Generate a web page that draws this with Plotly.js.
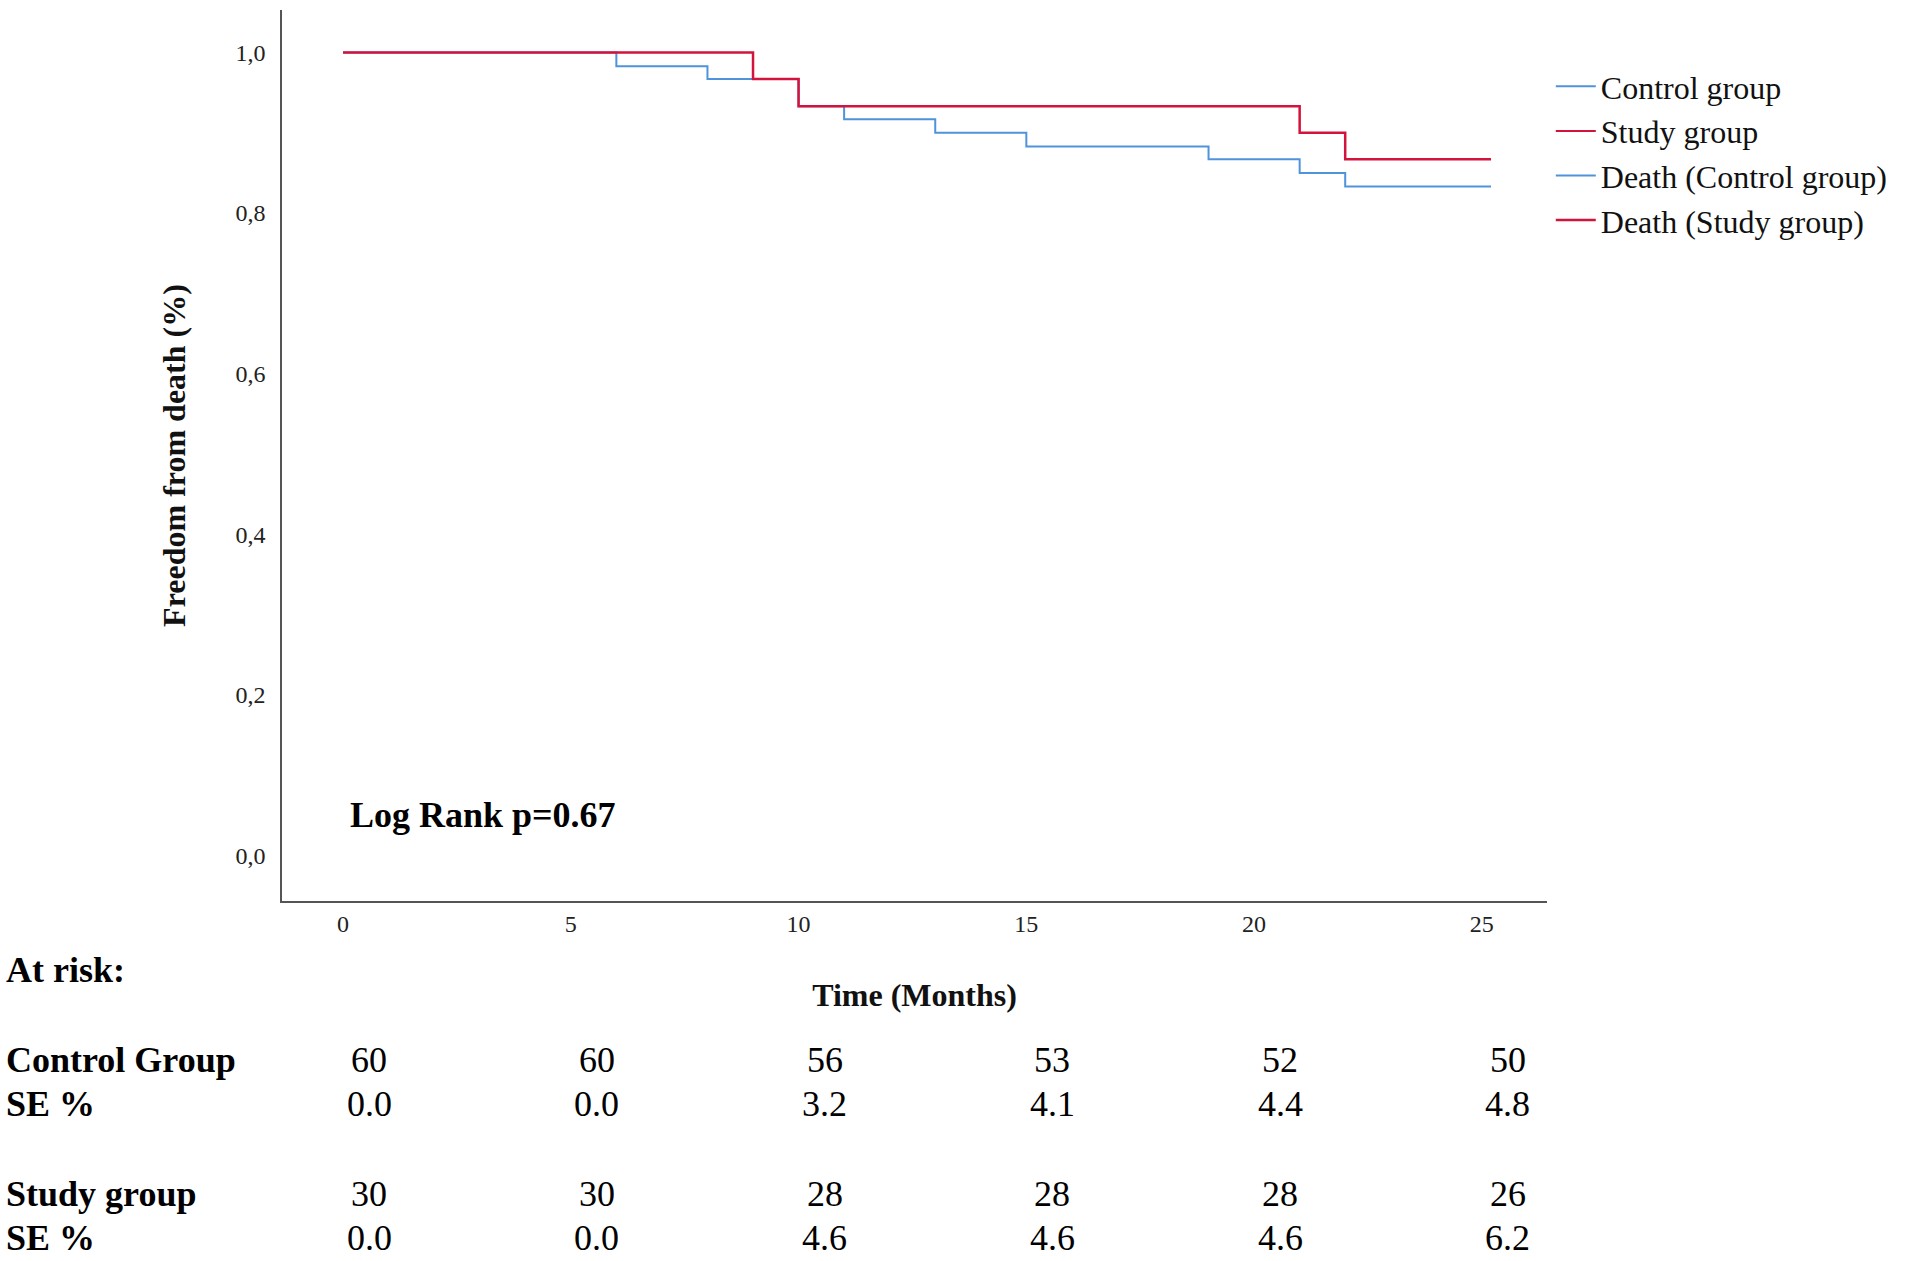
<!DOCTYPE html>
<html><head><meta charset="utf-8">
<script src="https://cdn.plot.ly/plotly-3.0.1.min.js"></script>
<style>body{margin:0;background:#fff}#chart{width:1916px;height:1261px}</style>
</head><body><div id="chart"></div>
<script>
// Kaplan-Meier steps (months, survival)
var control_t = [0, 6, 8, 10, 11, 13, 15, 19, 21, 22, 25.2];
var control_s = [1.0, 0.983, 0.967, 0.933, 0.917, 0.9, 0.883, 0.867, 0.85, 0.833, 0.833];
var study_t = [0, 9, 10, 21, 22, 25.2];
var study_s = [1.0, 0.967, 0.933, 0.9, 0.867, 0.867];

var risk_times = [0, 5, 10, 15, 20, 25];
var control_risk = ['60', '60', '56', '53', '52', '50'];
var control_se = ['0.0', '0.0', '3.2', '4.1', '4.4', '4.8'];
var study_risk = ['30', '30', '28', '28', '28', '26'];
var study_se = ['0.0', '0.0', '4.6', '4.6', '4.6', '6.2'];

var blue = '#4f93dc', red = '#d2143c';
var serif = 'Liberation Serif, Times New Roman, serif';

var traces = [
    {x: [null], y: [null], mode: 'lines', line: {color: blue, width: 2, shape: 'hv'}, name: 'Control group'},
    {x: [null], y: [null], mode: 'lines', line: {color: red, width: 2, shape: 'hv'}, name: 'Study group'},
    {x: control_t, y: control_s, mode: 'lines', line: {color: blue, width: 2, shape: 'hv'}, name: 'Death (Control group)'},
    {x: study_t, y: study_s, mode: 'lines', line: {color: red, width: 2.5, shape: 'hv'}, name: 'Death (Study group)'}
];

// plot area in pixels: top 10, bottom 901
function py(p) { return (901 - p) / 891; }

var txt = {family: serif, size: 36, color: '#000'};
var ann = [
    {xref: 'x', yref: 'y', x: 0.1, y: 0.05, text: '<b>Log Rank p=0.67</b>', showarrow: false,
     xanchor: 'left', font: {family: serif, size: 36, color: '#000'}},
    {xref: 'paper', yref: 'paper', x: -0.22, y: py(992), text: '<b>At risk:</b>', showarrow: false,
     xanchor: 'left', font: txt}
];
var rows = [
    ['<b>Control Group</b>', control_risk, 1082],
    ['<b>SE %</b>', control_se, 1126],
    ['<b>Study group</b>', study_risk, 1216],
    ['<b>SE %</b>', study_se, 1240]
];
rows[3][2] = 1260;
rows.forEach(function(r) {
    ann.push({xref: 'paper', yref: 'paper', x: -0.22, y: py(r[2]), text: r[0], showarrow: false,
              xanchor: 'left', font: txt});
    for (var i = 0; i < risk_times.length; i++) {
        ann.push({xref: 'x', yref: 'paper', x: risk_times[i], xshift: 26, y: py(r[2]), text: r[1][i],
                  showarrow: false, font: txt});
    }
});

var layout = {
    width: 1916, height: 1261,
    margin: {l: 282, r: 369, t: 10, b: 360},
    font: {family: serif, color: '#222'},
    separators: ',.',
    showlegend: true,
    legend: {x: 1.003, y: 0.945, xanchor: 'left', yanchor: 'top', font: {family: serif, size: 32, color: '#111'},
             tracegroupgap: 0, itemwidth: 40, bgcolor: 'rgba(0,0,0,0)'},
    xaxis: {range: [-1.34, 26.43], tickvals: [0, 5, 10, 15, 20, 25], showgrid: false, zeroline: false,
            showline: true, linecolor: '#555', linewidth: 1.5, ticks: '', tickfont: {size: 24},
            title: {text: '<b>Time (Months)</b>', font: {size: 32, color: '#111'}, standoff: 48}},
    yaxis: {range: [-0.057, 1.053], tickvals: [0, 0.2, 0.4, 0.6, 0.8, 1.0], tickformat: '.1f',
            showgrid: false, zeroline: false, showline: true, linecolor: '#555', linewidth: 1.5,
            ticks: '', tickfont: {size: 24}, ticklabelstandoff: 10,
            title: {text: '<b>Freedom from death (%)</b>', font: {size: 32, color: '#111'}, standoff: 40}},
    annotations: ann,
    plot_bgcolor: '#fff', paper_bgcolor: '#fff'
};

Plotly.newPlot('chart', traces, layout, {displayModeBar: false});
</script>
</body></html>
